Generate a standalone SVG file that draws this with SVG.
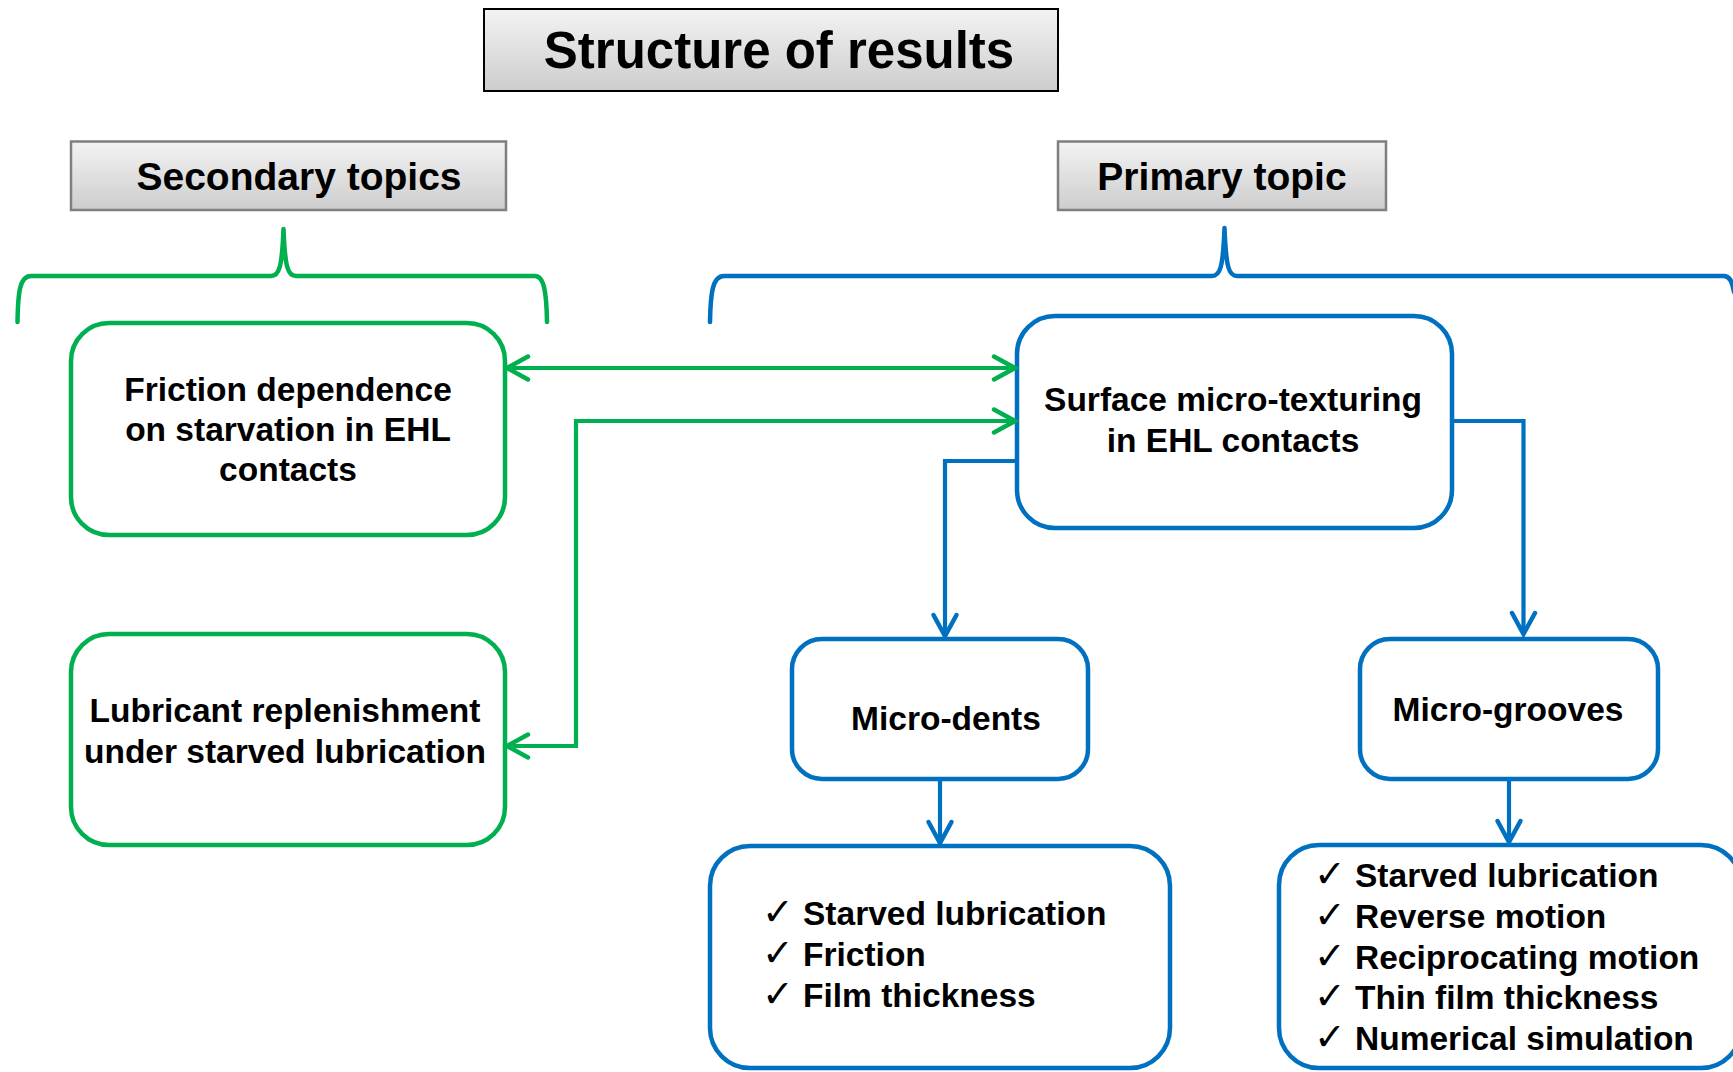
<svg xmlns="http://www.w3.org/2000/svg" width="1733" height="1072" viewBox="0 0 1733 1072">
<defs>
<linearGradient id="hdr" x1="0" y1="0" x2="0" y2="1">
<stop offset="0" stop-color="#F3F3F3"/>
<stop offset="1" stop-color="#CDCDCD"/>
</linearGradient>
<marker id="ag" markerUnits="userSpaceOnUse" markerWidth="30" markerHeight="30" viewBox="-25 -15 30 30" refX="0" refY="0" orient="auto-start-reverse">
<path d="M -21 -11.5 L 0 0 L -21 11.5" fill="none" stroke="#00B050" stroke-width="4.5" stroke-linecap="round" stroke-linejoin="miter"/>
</marker>
<marker id="ab" markerUnits="userSpaceOnUse" markerWidth="30" markerHeight="30" viewBox="-25 -15 30 30" refX="0" refY="0" orient="auto">
<path d="M -21 -11.5 L 0 0 L -21 11.5" fill="none" stroke="#0070C0" stroke-width="4.5" stroke-linecap="round" stroke-linejoin="miter"/>
</marker>
</defs>
<style>
text{font-family:"Liberation Sans",Arial,sans-serif;font-weight:bold;fill:#000}
.hdr{fill:url(#hdr);stroke:#7F7F7F;stroke-width:2.5}
.g{fill:#fff;stroke:#00B050;stroke-width:4.5}
.b{fill:#fff;stroke:#0070C0;stroke-width:4.5}
.t{font-size:33.5px;text-anchor:middle}
.li{font-size:33.5px}
.ck{font-family:"DejaVu Sans",sans-serif;font-weight:normal;font-size:38px}
.cg{fill:none;stroke:#00B050;stroke-width:4.5;stroke-linecap:round;stroke-linejoin:round}
.cb{fill:none;stroke:#0070C0;stroke-width:4.5;stroke-linecap:round;stroke-linejoin:round}
.lg{fill:none;stroke:#00B050;stroke-width:4.2}
.lb{fill:none;stroke:#0070C0;stroke-width:4.2}
</style>

<g id="title">
<rect x="484" y="9" width="574" height="82" fill="url(#hdr)" stroke="#000" stroke-width="2"/>
<text x="779" y="68" font-size="51" text-anchor="middle">Structure of results</text>
</g>

<g id="secondary-topics">
<rect class="hdr" x="71" y="141.5" width="435" height="68.5"/>
<text x="299" y="190" font-size="39" text-anchor="middle">Secondary topics</text>
</g>

<g id="primary-topic">
<rect class="hdr" x="1058" y="141.5" width="328" height="68.5"/>
<text x="1222" y="190" font-size="39" text-anchor="middle">Primary topic</text>
</g>

<g id="secondary-brace">
<path class="cg" d="M 17.5 322 C 18 293, 19.5 276, 31 276 L 271 276 C 279 276, 282 268, 283.5 229 C 285 268, 288 276, 296 276 L 535 276 C 544 276, 546.5 292, 547 322"/>
</g>

<g id="primary-brace">
<path class="cb" d="M 710 322 C 710.5 293, 712.5 276, 724 276 L 1212 276 C 1220 276, 1223 268, 1224.5 228 C 1226 268, 1229 276, 1237 276 L 1724 276 C 1729 276, 1732 280, 1734 292"/>
</g>

<g id="node-friction">
<rect class="g" x="71" y="323" width="434" height="212" rx="38"/>
<text class="t" x="288" y="401">Friction dependence</text>
<text class="t" x="288" y="441">on starvation in EHL</text>
<text class="t" x="288" y="481">contacts</text>
</g>

<g id="node-lubricant">
<rect class="g" x="71" y="634" width="434" height="211" rx="38"/>
<text class="t" x="285" y="722">Lubricant replenishment</text>
<text class="t" x="285" y="763">under starved lubrication</text>
</g>

<g id="node-surface">
<rect class="b" x="1017" y="316" width="435" height="212" rx="38"/>
<text class="t" x="1233" y="411">Surface micro-texturing</text>
<text class="t" x="1233" y="452">in EHL contacts</text>
</g>

<g id="node-dents">
<rect class="b" x="792" y="639" width="296" height="140" rx="30"/>
<text class="t" x="946" y="730">Micro-dents</text>
</g>

<g id="node-grooves">
<rect class="b" x="1360" y="639" width="298" height="140" rx="30"/>
<text class="t" x="1508" y="721">Micro-grooves</text>
</g>

<g id="node-dents-list">
<rect class="b" x="710" y="846" width="460" height="222" rx="40"/>
<text class="ck" x="762" y="925">✓</text>
<text class="li" x="803" y="925">Starved lubrication</text>
<text class="ck" x="762" y="966">✓</text>
<text class="li" x="803" y="966">Friction</text>
<text class="ck" x="762" y="1007">✓</text>
<text class="li" x="803" y="1007">Film thickness</text>
</g>

<g id="node-grooves-list">
<rect class="b" x="1279" y="845" width="462" height="223" rx="40"/>
<text class="ck" x="1314" y="887">✓</text>
<text class="li" x="1355" y="887">Starved lubrication</text>
<text class="ck" x="1314" y="928">✓</text>
<text class="li" x="1355" y="928">Reverse motion</text>
<text class="ck" x="1314" y="969">✓</text>
<text class="li" x="1355" y="969">Reciprocating motion</text>
<text class="ck" x="1314" y="1009">✓</text>
<text class="li" x="1355" y="1009">Thin film thickness</text>
<text class="ck" x="1314" y="1050">✓</text>
<text class="li" x="1355" y="1050">Numerical simulation</text>
</g>

<g id="connectors">
<path class="lg" d="M 507 368 L 1015 368" marker-start="url(#ag)" marker-end="url(#ag)"/>
<path class="lg" d="M 1015 421 L 576 421 L 576 746 L 507 746" marker-start="url(#ag)" marker-end="url(#ag)"/>
<path class="lb" d="M 1016 461 L 945 461 L 945 636" marker-end="url(#ab)"/>
<path class="lb" d="M 1452 421 L 1523.5 421 L 1523.5 634" marker-end="url(#ab)"/>
<path class="lb" d="M 940 779 L 940 843" marker-end="url(#ab)"/>
<path class="lb" d="M 1509 779 L 1509 842" marker-end="url(#ab)"/>
</g>
</svg>
